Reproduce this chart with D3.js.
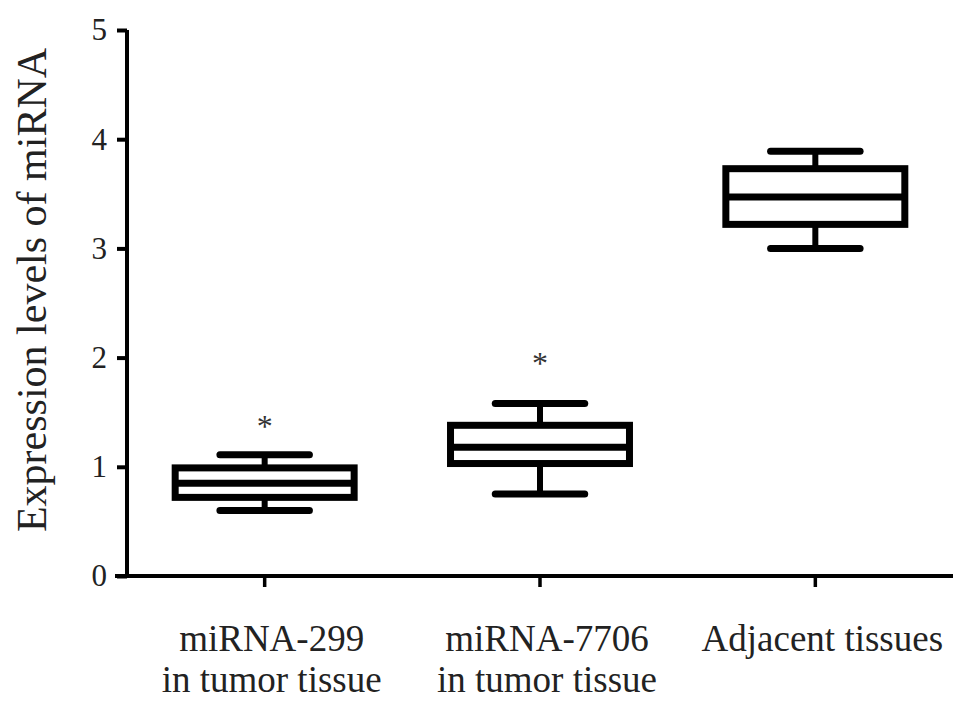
<!DOCTYPE html>
<html lang="en">
<head>
  <meta charset="UTF-8">
  <title>Expression levels of miRNA</title>
  <script src="https://d3js.org/d3.v7.min.js"></script>
  <style>
    body {
      margin: 0;
      padding: 0;
      background: #fff;
    }
    svg {
      display: block;
      font-family: 'Liberation Serif', 'Times New Roman', serif;
    }
  </style>
</head>
<body>
  <div id="chart"></div>

  <script>
    // values
    const groups = ["miRNA-299", "miRNA-7706", "Adjacent"];
    const groupLabels = [["miRNA-299", "in tumor tissue"], ["miRNA-7706", "in tumor tissue"], ["Adjacent tissues"]];
    const whiskerLow = [0.60, 0.75, 3.00];
    const q1 = [0.72, 1.03, 3.22];
    const median = [0.85, 1.18, 3.47];
    const q3 = [0.99, 1.38, 3.73];
    const whiskerHigh = [1.11, 1.58, 3.89];
    const starLevel = [1.27, 1.85, null];   // where the "*" sits, null = none
    const yTicks = [0, 1, 2, 3, 4, 5];
    const yTitle = "Expression levels of miRNA";

    const width = 969, height = 707;
    const mLeft = 127, mRight = 953, mTop = 30, mBottom = 576;

    const svg = d3.select("#chart").append("svg")
      .attr("width", width)
      .attr("height", height);

    const x = d3.scaleBand().domain(groups).range([mLeft, mRight]).padding(0);
    const y = d3.scaleLinear().domain([0, 5]).range([mBottom, mTop]);

    const boxW = x.bandwidth() * 0.65;
    const capW = boxW * 0.5;

    // y axis
    const yAxis = svg.append("g")
      .attr("transform", `translate(${mLeft},0)`)
      .call(d3.axisLeft(y).tickValues(yTicks).tickSize(10).tickPadding(10).tickFormat(d3.format("d")));
    yAxis.select(".domain").attr("stroke", "#000").attr("stroke-width", 4)
      .attr("d", `M0,${mTop}V${mBottom}`);
    yAxis.selectAll(".tick line").attr("stroke", "#000").attr("stroke-width", 4);
    yAxis.selectAll(".tick text").attr("font-size", 31).attr("fill", "#222")
      .attr("font-family", "'Liberation Serif', serif");

    // x axis
    const xAxis = svg.append("g")
      .attr("transform", `translate(0,${mBottom})`)
      .call(d3.axisBottom(x).tickSize(11).tickFormat(""));
    xAxis.select(".domain").attr("stroke", "#000").attr("stroke-width", 4)
      .attr("d", `M${mLeft - 12},0H${mRight}`);
    xAxis.selectAll(".tick line").attr("stroke", "#000").attr("stroke-width", 3.5);

    // category labels
    groups.forEach((g, i) => {
      const lx = x(g) + x.bandwidth() / 2 + 7;
      const t = svg.append("text")
        .attr("x", lx)
        .attr("y", 651)
        .attr("text-anchor", "middle")
        .attr("font-size", 37)
        .attr("fill", "#222");
      groupLabels[i].forEach((line, j) => {
        t.append("tspan")
          .attr("x", lx)
          .attr("dy", j === 0 ? 0 : 41)
          .text(line);
      });
    });

    // y title
    svg.append("text")
      .attr("transform", `translate(46,290) rotate(-90)`)
      .attr("text-anchor", "middle")
      .attr("font-size", 42)
      .attr("fill", "#222")
      .text(yTitle);

    // boxes
    groups.forEach((g, i) => {
      const cx = x(g) + x.bandwidth() / 2;
      const grp = svg.append("g");

      grp.append("line")
        .attr("x1", cx).attr("x2", cx)
        .attr("y1", y(whiskerLow[i])).attr("y2", y(q1[i]))
        .attr("stroke", "#000").attr("stroke-width", 6);
      grp.append("line")
        .attr("x1", cx).attr("x2", cx)
        .attr("y1", y(whiskerHigh[i])).attr("y2", y(q3[i]))
        .attr("stroke", "#000").attr("stroke-width", 6);

      [whiskerLow[i], whiskerHigh[i]].forEach(v => {
        grp.append("line")
          .attr("x1", cx - capW / 2).attr("x2", cx + capW / 2)
          .attr("y1", y(v)).attr("y2", y(v))
          .attr("stroke", "#000").attr("stroke-width", 7)
          .attr("stroke-linecap", "round");
      });

      grp.append("rect")
        .attr("x", cx - boxW / 2)
        .attr("y", y(q3[i]))
        .attr("width", boxW)
        .attr("height", y(q1[i]) - y(q3[i]))
        .attr("fill", "#fff")
        .attr("stroke", "#000")
        .attr("stroke-width", 7);

      grp.append("line")
        .attr("x1", cx - boxW / 2).attr("x2", cx + boxW / 2)
        .attr("y1", y(median[i])).attr("y2", y(median[i]))
        .attr("stroke", "#000").attr("stroke-width", 7);

      if (starLevel[i] != null) {
        grp.append("text")
          .attr("x", cx)
          .attr("y", y(starLevel[i]))
          .attr("text-anchor", "middle")
          .attr("font-size", 32)
          .attr("fill", "#333")
          .text("*");
      }
    });
  </script>
</body>
</html>
